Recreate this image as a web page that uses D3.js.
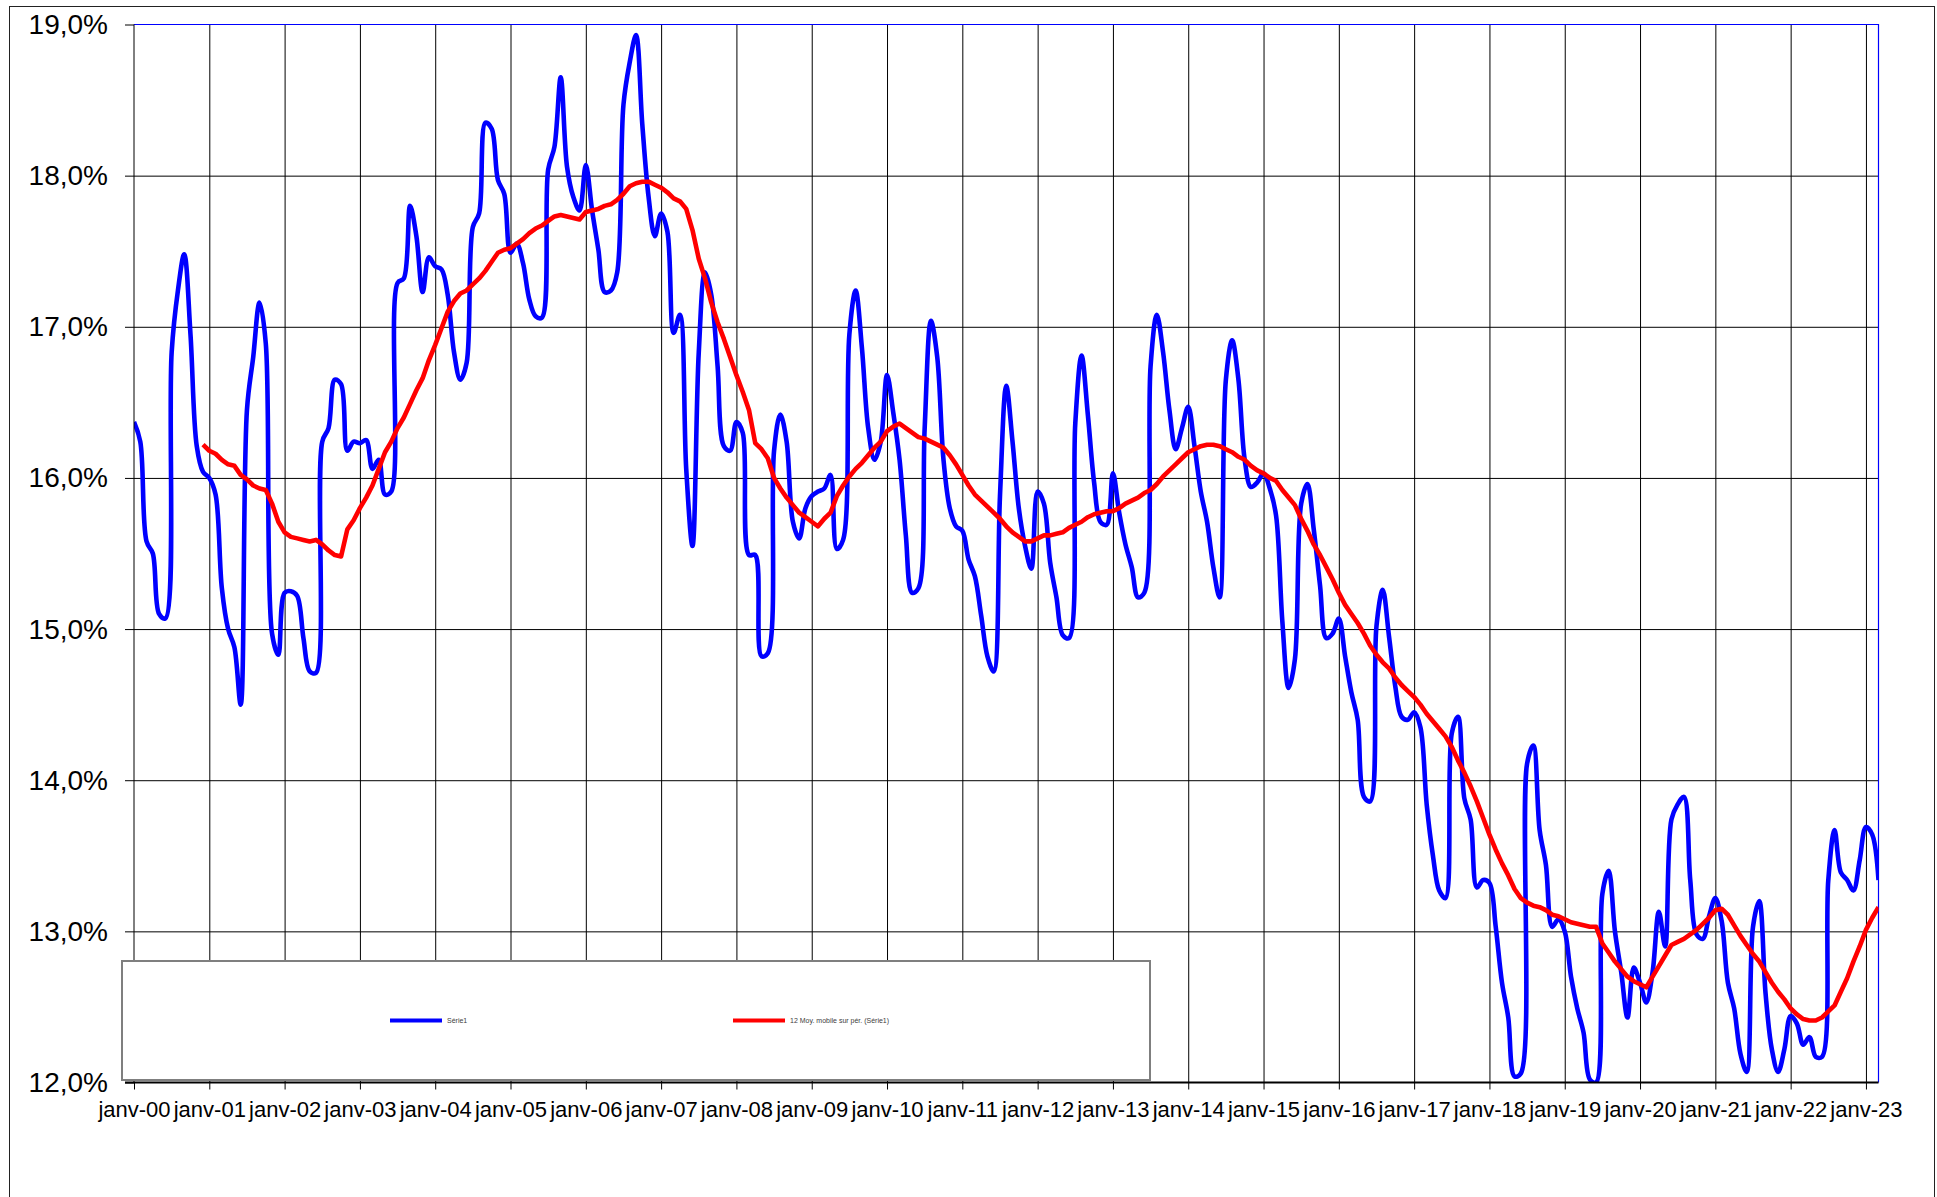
<!DOCTYPE html>
<html lang="fr">
<head>
<meta charset="utf-8">
<title>Série1</title>
<script src="https://cdn.jsdelivr.net/npm/d3@7"></script>
<style>
  body { margin: 0; background: #fff; }
  svg { display: block; font-family: 'Liberation Sans', Arial, sans-serif; }
</style>
</head>
<body>
<svg id="chart"></svg>
<script>
const tickLabels = [
  'janv-00', 'janv-01', 'janv-02', 'janv-03', 'janv-04', 'janv-05', 'janv-06', 'janv-07',
  'janv-08', 'janv-09', 'janv-10', 'janv-11', 'janv-12', 'janv-13', 'janv-14', 'janv-15',
  'janv-16', 'janv-17', 'janv-18', 'janv-19', 'janv-20', 'janv-21', 'janv-22', 'janv-23'
];

// monthly values, janv-00 .. mars-23 (%)
const serie1 = [
  16.37, 16.24, 15.58, 15.50, 15.10, 15.07, 16.83, 17.24, 17.48, 16.95, 16.21, 16.04,
  16.00, 15.89, 15.27, 15.00, 14.88, 14.50, 16.45, 16.80, 17.16, 16.89, 14.97, 14.83,
  15.24, 15.25, 15.22, 14.94, 14.72, 14.71, 16.24, 16.33, 16.65, 16.62, 16.18, 16.24,
  16.23, 16.25, 16.06, 16.12, 15.89, 15.91, 17.29, 17.32, 17.80, 17.60, 17.23, 17.46,
  17.40, 17.38, 17.21, 16.83, 16.65, 16.76, 17.66, 17.75, 18.35, 18.31, 17.97, 17.88,
  17.49, 17.55, 17.42, 17.18, 17.07, 17.06, 18.04, 18.19, 18.65, 18.06, 17.86, 17.77,
  18.07, 17.77, 17.51, 17.23, 17.24, 17.36, 18.47, 18.75, 18.93, 18.34, 17.86, 17.60,
  17.75, 17.63, 16.96, 17.08, 16.06, 15.55, 16.83, 17.36, 17.21, 16.74, 16.21, 16.18,
  16.37, 16.30, 15.49, 15.49, 14.82, 14.84, 16.18, 16.42, 16.24, 15.71, 15.60, 15.80,
  15.88, 15.91, 15.93, 16.02, 15.53, 15.59, 16.95, 17.24, 16.86, 16.33, 16.12, 16.24,
  16.68, 16.43, 16.12, 15.62, 15.24, 15.27, 16.33, 17.04, 16.80, 16.12, 15.80, 15.68,
  15.65, 15.46, 15.35, 15.09, 14.82, 14.72, 15.88, 16.61, 16.24, 15.80, 15.55, 15.40,
  15.91, 15.83, 15.44, 15.21, 14.96, 14.94, 16.36, 16.81, 16.42, 15.97, 15.71, 15.69,
  16.03, 15.77, 15.56, 15.41, 15.21, 15.24, 16.74, 17.08, 16.83, 16.45, 16.19, 16.33,
  16.47, 16.21, 15.91, 15.71, 15.41, 15.21, 16.65, 16.91, 16.65, 16.12, 15.94, 15.97,
  16.03, 15.93, 15.75, 15.05, 14.61, 14.80, 15.83, 15.96, 15.66, 15.29, 14.94, 14.97,
  15.07, 14.82, 14.58, 14.40, 13.89, 13.86, 15.02, 15.26, 14.95, 14.62, 14.42, 14.40,
  14.45, 14.35, 13.84, 13.50, 13.27, 13.22, 14.31, 14.42, 13.88, 13.74, 13.29, 13.34,
  13.32, 13.03, 12.66, 12.43, 12.04, 12.06, 14.11, 14.23, 13.67, 13.44, 13.03, 13.08,
  13.00, 12.70, 12.49, 12.33, 12.02, 12.00, 13.25, 13.40, 13.00, 12.73, 12.43, 12.76,
  12.66, 12.53, 12.73, 13.13, 12.90, 13.74, 13.84, 13.89, 13.34, 12.98, 12.95, 13.10,
  13.22, 13.07, 12.66, 12.49, 12.19, 12.07, 13.03, 13.20, 12.59, 12.22, 12.07, 12.22,
  12.44, 12.39, 12.25, 12.30, 12.17, 12.17, 13.34, 13.67, 13.39, 13.34, 13.27, 13.47,
  13.69, 13.64, 13.34
];

// 12 Moy. mobile sur pér., from déc-00 (month index 11) onwards
const maStart = 11;
const movingAvg = [
  16.22,
  16.18, 16.16, 16.12, 16.09, 16.08, 16.02, 15.99, 15.95, 15.93, 15.92, 15.83, 15.71,
  15.64, 15.61, 15.60, 15.59, 15.58, 15.59, 15.56, 15.52, 15.49, 15.48, 15.66, 15.72,
  15.80, 15.87, 15.95, 16.06, 16.17, 16.24, 16.33, 16.40, 16.49, 16.58, 16.66, 16.78,
  16.88, 16.99, 17.10, 17.17, 17.22, 17.24, 17.28, 17.32, 17.37, 17.43, 17.49, 17.51,
  17.52, 17.55, 17.58, 17.62, 17.65, 17.67, 17.70, 17.73, 17.74, 17.73, 17.72, 17.71,
  17.76, 17.77, 17.78, 17.80, 17.81, 17.84, 17.88, 17.93, 17.95, 17.96, 17.96, 17.94,
  17.92, 17.89, 17.85, 17.83, 17.78, 17.64, 17.45, 17.32, 17.16, 17.03, 16.92, 16.80,
  16.68, 16.57, 16.45, 16.23, 16.19, 16.13, 16.00, 15.93, 15.87, 15.82, 15.77, 15.74,
  15.71, 15.68, 15.73, 15.77, 15.88, 15.95, 16.01, 16.06, 16.10, 16.15, 16.20, 16.24,
  16.31, 16.34, 16.36, 16.33, 16.30, 16.27, 16.26, 16.24, 16.22, 16.20, 16.15, 16.09,
  16.02, 15.95, 15.89, 15.85, 15.81, 15.77, 15.73, 15.68, 15.64, 15.61, 15.58, 15.58,
  15.60, 15.62, 15.62, 15.63, 15.64, 15.67, 15.69, 15.71, 15.74, 15.76, 15.77, 15.78,
  15.78, 15.80, 15.83, 15.85, 15.87, 15.90, 15.92, 15.96, 16.01, 16.05, 16.09, 16.13,
  16.17, 16.19, 16.21, 16.22, 16.22, 16.21, 16.19, 16.17, 16.14, 16.12, 16.08, 16.05,
  16.03, 16.00, 15.98, 15.92, 15.87, 15.82, 15.73, 15.65, 15.56, 15.49, 15.41, 15.33,
  15.24, 15.16, 15.10, 15.04, 14.97, 14.89, 14.83, 14.78, 14.74, 14.68, 14.63, 14.59,
  14.55, 14.50, 14.44, 14.39, 14.34, 14.29, 14.22, 14.13, 14.05, 13.96, 13.86, 13.75,
  13.64, 13.54, 13.45, 13.37, 13.28, 13.22, 13.19, 13.17, 13.16, 13.14, 13.11, 13.10,
  13.08, 13.06, 13.05, 13.04, 13.03, 13.03, 12.92, 12.86, 12.80, 12.75, 12.70, 12.67,
  12.65, 12.63, 12.70, 12.77, 12.84, 12.91, 12.93, 12.95, 12.98, 13.01, 13.05, 13.09,
  13.14, 13.15, 13.11, 13.04, 12.97, 12.91, 12.85, 12.80, 12.73, 12.66, 12.60, 12.55,
  12.49, 12.45, 12.42, 12.41, 12.41, 12.43, 12.47, 12.51, 12.60, 12.69, 12.80, 12.90,
  13.01, 13.09, 13.16
];

const yTicks = [12, 13, 14, 15, 16, 17, 18, 19];
const legendLabels = ['Série1', '12 Moy. mobile sur pér. (Série1)'];
const seriesColors = ['#0000ff', '#ff0000'];

const width = 1937;
const height = 1197;
const plot = { left: 134, right: 1878.5, top: 24.5, bottom: 1082.5 };

const fr = d3.formatLocale({ decimal: ',', thousands: ' ', grouping: [3], currency: ['', ' €'] });
const pct = (d) => fr.format('.1f')(d) + '%';

const x = d3.scaleLinear([0, serie1.length - 1], [plot.left, plot.right]);
const y = d3.scaleLinear([12, 19], [plot.bottom, plot.top]);
const janv = d3.range(0, serie1.length, 12);

const svg = d3
  .select('#chart')
  .attr('width', width)
  .attr('height', height)
  .attr('viewBox', [0, 0, width, height]);

// chart area border (runs off the bottom of the page)
svg
  .append('rect')
  .attr('x', 9.5)
  .attr('y', 6.5)
  .attr('width', 1925)
  .attr('height', 1400)
  .attr('fill', '#fff')
  .attr('stroke', '#222');

svg
  .append('defs')
  .append('clipPath')
  .attr('id', 'plot-clip')
  .append('rect')
  .attr('x', plot.left)
  .attr('y', plot.top)
  .attr('width', plot.right - plot.left)
  .attr('height', plot.bottom - plot.top);

// gridlines
svg
  .append('g')
  .attr('transform', `translate(${plot.left},0)`)
  .call(d3.axisLeft(y).tickValues(yTicks.slice(1, -1)).tickSize(-(plot.right - plot.left)).tickFormat(''))
  .call((g) => g.select('.domain').remove())
  .call((g) => g.selectAll('.tick line').attr('stroke', '#000'));

svg
  .append('g')
  .attr('transform', `translate(0,${plot.bottom})`)
  .call(d3.axisBottom(x).tickValues(janv.slice(1)).tickSize(-(plot.bottom - plot.top)).tickFormat(''))
  .call((g) => g.select('.domain').remove())
  .call((g) => g.selectAll('.tick line').attr('stroke', '#000'));

// plot area border, top and right
svg
  .append('path')
  .attr('d', `M${plot.left},${plot.top}H${plot.right}V${plot.bottom}`)
  .attr('fill', 'none')
  .attr('stroke', '#0000ff')
  .attr('stroke-width', 1.2);

const lines = svg.append('g').attr('clip-path', 'url(#plot-clip)');

lines
  .append('path')
  .datum(serie1)
  .attr('fill', 'none')
  .attr('stroke', seriesColors[0])
  .attr('stroke-width', 4.6)
  .attr('stroke-linejoin', 'round')
  .attr('d', d3.line().x((d, i) => x(i)).y((d) => y(d)).curve(d3.curveCatmullRom.alpha(0.5)));

lines
  .append('path')
  .datum(movingAvg)
  .attr('fill', 'none')
  .attr('stroke', seriesColors[1])
  .attr('stroke-width', 4.6)
  .attr('stroke-linejoin', 'round')
  .attr('d', d3.line().x((d, i) => x(i + maStart)).y((d) => y(d)));

// y axis
svg
  .append('g')
  .attr('transform', `translate(${plot.left},0)`)
  .call(d3.axisLeft(y).tickValues(yTicks).tickFormat(pct).tickSize(9).tickPadding(17))
  .call((g) => g.select('.domain').attr('stroke', '#000').attr('d', `M0,${plot.top}V${plot.bottom}`))
  .call((g) => g.selectAll('.tick line').attr('stroke', '#000'))
  .call((g) =>
    g.selectAll('.tick text').attr('fill', '#000').attr('font-size', 28).attr('font-family', 'Liberation Sans, Arial, sans-serif')
  );

// x axis
svg
  .append('g')
  .attr('transform', `translate(0,${plot.bottom})`)
  .call(d3.axisBottom(x).tickValues(janv).tickFormat((d, i) => tickLabels[i]).tickSize(7).tickPadding(12))
  .call((g) =>
    g.select('.domain').attr('stroke', '#000').attr('stroke-width', 2).attr('d', `M${plot.left - 9},0H${plot.right}`)
  )
  .call((g) => g.selectAll('.tick line').attr('stroke', '#000'))
  .call((g) =>
    g.selectAll('.tick text').attr('fill', '#000').attr('font-size', 22).attr('font-family', 'Liberation Sans, Arial, sans-serif')
  );

// legend
const legend = svg.append('g').attr('transform', 'translate(122,961)');

legend
  .append('rect')
  .attr('width', 1028)
  .attr('height', 119)
  .attr('fill', '#fff')
  .attr('stroke', '#7f7f7f')
  .attr('stroke-width', 2);

const legendX = [268, 611];

const items = legend
  .selectAll('g.item')
  .data(legendLabels)
  .join('g')
  .attr('class', 'item')
  .attr('transform', (d, i) => `translate(${legendX[i]},59.5)`);

items
  .append('line')
  .attr('x1', 0)
  .attr('x2', 52)
  .attr('stroke', (d, i) => seriesColors[i])
  .attr('stroke-width', 4);

items
  .append('text')
  .attr('x', 57)
  .attr('dy', '0.35em')
  .attr('font-size', 7)
  .attr('fill', '#404040')
  .text((d) => d);
</script>
</body>
</html>
